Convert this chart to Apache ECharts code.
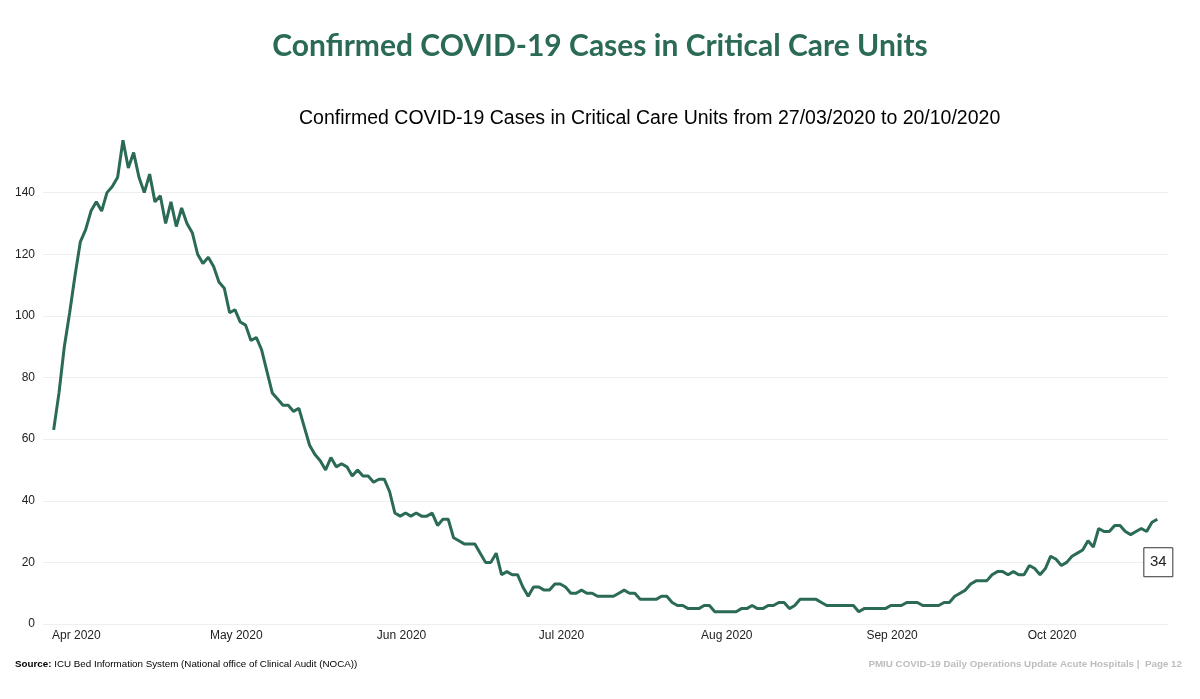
<!DOCTYPE html>
<html><head><meta charset="utf-8">
<script src="https://cdn.jsdelivr.net/npm/echarts@6/dist/echarts.min.js"></script>
<style>html,body{margin:0;padding:0;background:#fff}#c{width:1200px;height:699px}</style>
</head><body><div id="c"></div>
<script>
// Daily confirmed COVID-19 cases in critical care units, 27/03/2020 .. 20/10/2020
const startDate = [2020, 2, 27]; // year, monthIndex, day
const cases = [
  63, 75, 90, 101, 113, 124, 128, 134, 137, 134,
  140, 142, 145, 157, 148, 153, 145, 140, 146, 137,
  139, 130, 137, 129, 135, 130, 127, 120, 117, 119,
  116, 111, 109, 101, 102, 98, 97, 92, 93, 89,
  82, 75, 73, 71, 71, 69, 70, 64, 58, 55,
  53, 50, 54, 51, 52, 51, 48, 50, 48, 48,
  46, 47, 47, 43, 36, 35, 36, 35, 36, 35,
  35, 36, 32, 34, 34, 28, 27, 26, 26, 26,
  23, 20, 20, 23, 16, 17, 16, 16, 12, 9,
  12, 12, 11, 11, 13, 13, 12, 10, 10, 11,
  10, 10, 9, 9, 9, 9, 10, 11, 10, 10,
  8, 8, 8, 8, 9, 9, 7, 6, 6, 5,
  5, 5, 6, 6, 4, 4, 4, 4, 4, 5,
  5, 6, 5, 5, 6, 6, 7, 7, 5, 6,
  8, 8, 8, 8, 7, 6, 6, 6, 6, 6,
  6, 4, 5, 5, 5, 5, 5, 6, 6, 6,
  7, 7, 7, 6, 6, 6, 6, 7, 7, 9,
  10, 11, 13, 14, 14, 14, 16, 17, 17, 16,
  17, 16, 16, 19, 18, 16, 18, 22, 21, 19,
  20, 22, 23, 24, 27, 25, 31, 30, 30, 32,
  32, 30, 29, 30, 31, 30, 33, 34
];
const monthNames = ['Jan','Feb','Mar','Apr','May','Jun','Jul','Aug','Sep','Oct','Nov','Dec'];
const yTicks = [0, 20, 40, 60, 80, 100, 120, 140];
const padBefore = 2, padAfter = 2;

const categories = [];
const seriesData = [];
const base = Date.UTC(startDate[0], startDate[1], startDate[2]);
for (let i = -padBefore; i < cases.length + padAfter; i++) {
  const d = new Date(base + i * 86400000);
  categories.push(d.toISOString().slice(0, 10));
  seriesData.push(i >= 0 && i < cases.length ? cases[i] : null);
}
const lastIdx = padBefore + cases.length - 1;
const lastVal = cases[cases.length - 1];

const green = '#2a6a56';
const chart = echarts.init(document.getElementById('c'));
chart.setOption({
  animation: false,
  backgroundColor: '#fff',
  title: [
    { text: 'Confirmed COVID-19 Cases in Critical Care Units', left: 'center', top: 26,
      textStyle: { fontFamily: 'Lato', fontWeight: 'bold', fontSize: 30, color: green } },
    { text: 'Confirmed COVID-19 Cases in Critical Care Units from 27/03/2020 to 20/10/2020', left: 294, top: 104,
      textStyle: { fontFamily: 'Liberation Sans', fontWeight: 'normal', fontSize: 19.5, color: '#000' } },
    { text: '{b|Source:} ICU Bed Information System (National office of Clinical Audit (NOCA))', left: 10, top: 654,
      textStyle: { fontFamily: 'Liberation Sans', fontWeight: 'normal', fontSize: 9.8, color: '#000',
        rich: { b: { fontFamily: 'Liberation Sans', fontWeight: 'bold', fontSize: 9.8, color: '#000' } } } },
    { text: 'PMIU COVID-19 Daily Operations Update Acute Hospitals |  Page 12', right: 13, top: 654,
      textStyle: { fontFamily: 'Liberation Sans', fontWeight: 'bold', fontSize: 9.8, color: '#bdbdbd' } }
  ],
  grid: { left: 43, right: 32, top: 131, bottom: 75, containLabel: false },
  xAxis: {
    type: 'category', data: categories, boundaryGap: false,
    axisLine: { show: false }, axisTick: { show: false },
    splitLine: { show: false },
    axisLabel: {
      interval: (idx, val) => val.slice(8, 10) === '01',
      formatter: (val) => monthNames[parseInt(val.slice(5, 7), 10) - 1] + ' ' + val.slice(0, 4),
      fontFamily: 'Liberation Sans', fontSize: 12, color: '#222', margin: 6, padding: [0, 8, 0, 0]
    }
  },
  yAxis: {
    type: 'value', min: yTicks[0], max: 160, interval: 20,
    axisLine: { show: false }, axisTick: { show: false },
    axisLabel: { showMaxLabel: false, fontFamily: 'Liberation Sans', fontSize: 12, color: '#222', margin: 8 },
    splitLine: { show: true, showMaxLine: false, lineStyle: { color: '#efefef', width: 1 } }
  },
  series: [{
    type: 'line', data: seriesData, showSymbol: false, symbol: 'none', connectNulls: false,
    lineStyle: { color: green, width: 3 },
    markPoint: {
      symbol: 'rect', symbolSize: [29, 29], symbolOffset: [1, 43],
      itemStyle: { color: '#fff', borderColor: '#333', borderWidth: 1 },
      label: { show: true, formatter: String(lastVal), fontFamily: 'Liberation Sans', fontSize: 15, color: '#222' },
      data: [{ coord: [categories[lastIdx], lastVal] }]
    }
  }]
});
</script></body></html>
